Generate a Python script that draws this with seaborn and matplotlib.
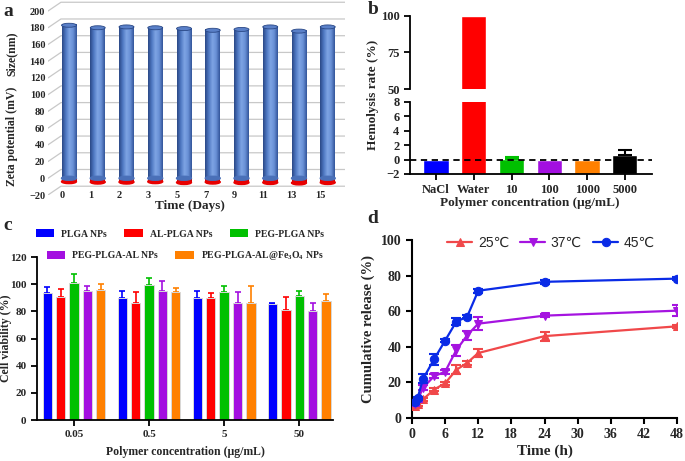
import numpy as np
import pandas as pd
import matplotlib
matplotlib.use("Agg")
import matplotlib.pyplot as plt
import seaborn as sns
from matplotlib.patches import Ellipse, Patch
from matplotlib.colors import LinearSegmentedColormap

# ---- panel a: size / zeta over time
days = ["0", "1", "2", "3", "5", "7", "9", "11", "13", "15"]
size_nm = [183, 180, 181, 180, 179, 177, 178, 181, 176, 181]
zeta_mv = [-4.0, -4.5, -4.5, -4.0, -5.0, -4.5, -5.0, -5.0, -5.5, -5.0]

# ---- panel b: hemolysis
hemo_groups = ["NaCl", "Water", "10", "100", "1000", "5000"]
hemo_rate = [0.0, 100.0, 0.1, -0.05, -0.05, 0.6]
hemo_err = [0.0, 0.0, 0.25, 0.0, 0.0, 0.7]
hemo_colors = ["#0000ff", "#ff0000", "#00c000", "#a30fe0", "#ff8000", "#000000"]

# ---- panel c: cell viability
conc = ["0.05", "0.5", "5", "50"]
np_types = ["PLGA NPs", "AL-PLGA NPs", "PEG-PLGA NPs", "PEG-PLGA-AL NPs",
            "PEG-PLGA-AL@Fe$_3$O$_4$ NPs"]
via_plga = [93.3, 89.6, 89.6, 85.2]
via_al = [90.3, 86.4, 89.8, 80.8]
via_peg = [100.6, 99.6, 94.0, 91.5]
via_pegal = [94.8, 95.2, 85.9, 80.5]
via_fe = [95.7, 94.0, 86.4, 87.4]
err_plga = [4.4, 5.6, 5.6, 1.0]
err_al = [5.9, 8.1, 3.7, 9.5]
err_peg = [6.9, 5.2, 4.9, 3.5]
err_pegal = [4.1, 6.9, 8.6, 5.7]
err_fe = [4.7, 3.2, 12.5, 5.1]
np_colors = ["#0000ff", "#ff0000", "#00c000", "#a30fe0", "#ff8000"]

# ---- panel d: release
time_h = [0.5, 1, 2, 4, 6, 8, 10, 12, 24, 48]
rel_25 = [6.5, 8, 10.5, 16, 19.5, 27, 31, 36.5, 46, 51.5]
err_25 = [1, 1, 1, 1, 1, 2.5, 1, 2.5, 2.5, 1]
rel_37 = [8, 10, 17, 23.5, 26, 38, 46.5, 53, 57.5, 60.3]
err_37 = [1, 1, 1.5, 1, 1, 3, 2.5, 3.5, 1, 3]
rel_45 = [9, 11, 22, 33, 43.5, 54, 57, 71.5, 76.5, 78.3]
err_45 = [1, 1, 2.5, 3, 1, 2, 1, 1, 1, 1]
temps = ["25\u2103", "37\u2103", "45\u2103"]
temp_colors = ["#f0484a", "#a514e0", "#0a2be6"]
temp_markers = ["^", "v", "o"]

sns.set_style("white")
plt.rcParams["font.family"] = ["Liberation Serif", "DejaVu Serif"]
plt.rcParams["font.weight"] = "bold"
plt.rcParams["axes.labelweight"] = "bold"
plt.rcParams["mathtext.fontset"] = "custom"
plt.rcParams["mathtext.rm"] = "Liberation Serif:bold"
plt.rcParams["mathtext.default"] = "rm"

W, H = 685, 461
fig = plt.figure(figsize=(W / 100, H / 100), dpi=100)


def box(l, t, r, b):
    return [l / W, 1 - b / H, (r - l) / W, (b - t) / H]


def style_axis(ax, lw=1.3, size=8):
    for s in ["top", "right"]:
        ax.spines[s].set_visible(False)
    for s in ["left", "bottom"]:
        ax.spines[s].set_linewidth(lw)
        ax.spines[s].set_color("black")
    ax.tick_params(direction="out", length=4, width=lw, color="black",
                   labelsize=size, left=True, bottom=True)


# ================= panel a =================
axa = fig.add_axes(box(48, 1, 345, 195))
dfa = pd.DataFrame({"day": days, "size": size_nm, "zeta": zeta_mv})
bw = 0.52
sns.barplot(data=dfa, x="day", y="zeta", color="#ff0000", saturation=1,
            width=bw, ax=axa, zorder=2)
nz = len(axa.patches)
sns.barplot(data=dfa, x="day", y="size", color="#4a6fb8", saturation=1,
            width=bw, ax=axa, zorder=3)
cyl = LinearSegmentedColormap.from_list(
    "cyl", ["#2a4886", "#4f78c2", "#7ea4e4", "#6990d6", "#33559a"])
red_cyl = LinearSegmentedColormap.from_list(
    "redcyl", ["#c80000", "#ff1010", "#ff2a2a", "#f00000", "#c00000"])
grad = np.linspace(0, 1, 64).reshape(1, -1)
eh = 4.8
for i, p in enumerate(axa.patches[:]):
    x, w = p.get_x(), p.get_width()
    y, h = p.get_y(), p.get_height()
    cx = x + w / 2
    p.set_visible(False)
    if i < nz:
        axa.imshow(grad, extent=[x, x + w, y + h, y], cmap=red_cyl,
                   aspect="auto", zorder=2)
        axa.add_patch(Ellipse((cx, y + h), w, eh, color="#e80000", zorder=2))
    else:
        axa.imshow(grad, extent=[x, x + w, y, y + h], cmap=cyl, aspect="auto",
                   zorder=3)
        axa.add_patch(Ellipse((cx, y), w, eh, color="#4a70b8", zorder=3))
        axa.add_patch(Ellipse((cx, y + h), w, eh, facecolor="#5a80c8",
                              edgecolor="#2a4886", lw=0.6, zorder=4))
x0, x1 = -0.73, 9.6
dx, off = 0.45, 10.5
for v in range(-20, 201, 20):
    axa.plot([x0, x0 + dx, x1], [v, v + off, v + off], color="#c8c8c8",
             lw=0.9, zorder=0)
axa.set_xlim(x0, x1)
axa.set_ylim(-20, 212)
axa.set_yticks(range(-20, 201, 20))
axa.set_xticks(np.arange(len(days)) - 0.25)
axa.set_xticklabels(days)
axa.set_xlabel("")
axa.set_ylabel("")
for s in axa.spines.values():
    s.set_visible(False)
axa.tick_params(length=0, labelsize=7.5, pad=2)
axa.tick_params(axis="x", pad=-3)
fig.text(12 / W, 1 - 54 / H, "Size(nm)", rotation=90, ha="center",
         va="center", fontsize=8.5)
fig.text(12 / W, 1 - 136 / H, "Zeta potential (mV)", rotation=90,
         ha="center", va="center", fontsize=8.5)
fig.text(190 / W, 1 - 206 / H, "Time (Days)", ha="center", va="center",
         fontsize=9.5)

# ================= panel b =================
dfb = pd.DataFrame({"grp": hemo_groups, "rate": hemo_rate})
axb1 = fig.add_axes(box(410, 16, 652, 89))
axb2 = fig.add_axes(box(410, 102, 652, 174))
for ax in (axb1, axb2):
    sns.barplot(data=dfb, x="grp", y="rate", hue="grp", palette=hemo_colors,
                saturation=1, width=0.67, legend=False, ax=ax, zorder=2)
    for p, v in zip(ax.patches, hemo_rate):
        p.set_y(-2)
        p.set_height(v + 2)
    for i, (v, e, c) in enumerate(zip(hemo_rate, hemo_err, hemo_colors)):
        if e > 0:
            ax.errorbar(i, v, yerr=[[0], [e]], fmt="none", ecolor=c,
                        elinewidth=1.5, capsize=5, capthick=1.5, zorder=3)
    ax.set_xlim(-0.69, 5.72)
    ax.set_xlabel("")
    ax.set_ylabel("")
    style_axis(ax, size=9)
axb1.set_ylim(50, 100)
axb1.set_yticks([50, 75, 100])
axb1.spines["bottom"].set_visible(False)
axb1.tick_params(axis="x", bottom=False, labelbottom=False)
axb2.set_ylim(-2, 8)
axb2.set_yticks(range(-2, 9, 2))
axb2.axhline(0, color="black", ls=(0, (3.5, 2.5)), lw=1.3, zorder=5)
fig.text(373 / W, 1 - 95 / H, "Hemolysis rate (%)", rotation=90,
         ha="center", va="center", fontsize=9.5)
fig.text(530 / W, 1 - 203 / H, "Polymer concentration (\u03bcg/mL)",
         ha="center", va="center", fontsize=9.5)

# ================= panel c =================
via = [via_plga, via_al, via_peg, via_pegal, via_fe]
errs = [err_plga, err_al, err_peg, err_pegal, err_fe]
dfc = pd.DataFrame({
    "conc": conc * len(np_types),
    "type": [t for t in np_types for _ in conc],
    "viab": [v for vals in via for v in vals],
})
axc = fig.add_axes(box(37, 257, 333, 420))
sns.barplot(data=dfc, x="conc", y="viab", hue="type", hue_order=np_types,
            palette=np_colors, saturation=1, width=0.89, gap=0.3,
            edgecolor="#d8d8d8", linewidth=0.7, legend=False, ax=axc, zorder=2)
for cont, e, c in zip(axc.containers, errs, np_colors):
    xs = [b.get_x() + b.get_width() / 2 for b in cont]
    ys = [b.get_height() for b in cont]
    axc.errorbar(xs, ys, yerr=[np.zeros(len(e)), e], fmt="none", ecolor=c,
                 elinewidth=1.2, capsize=2.5, capthick=1.2, zorder=1)
axc.set_xlim(-0.493, 3.45)
axc.set_ylim(0, 120)
axc.set_yticks(range(0, 121, 20))
axc.set_xlabel("")
axc.set_ylabel("")
style_axis(axc, size=8)
fig.text(6 / W, 1 - 338 / H, "Cell viability (%)", rotation=90, ha="center",
         va="center", fontsize=8.5)
fig.text(185 / W, 1 - 452 / H, "Polymer concentration (\u03bcg/mL)",
         ha="center", va="center", fontsize=8.5)
hnd = [Patch(facecolor=c, edgecolor="none") for c in np_colors]
fig.legend(hnd[:3], np_types[:3], ncol=3, frameon=False, fontsize=7,
           loc="center", bbox_to_anchor=(180 / W, 1 - 234 / H),
           handlelength=1.9, handleheight=0.9, columnspacing=1.8,
           handletextpad=0.7)
fig.legend(hnd[3:], np_types[3:], ncol=2, frameon=False, fontsize=7,
           loc="center", bbox_to_anchor=(185 / W, 1 - 256 / H),
           handlelength=1.9, handleheight=0.9, columnspacing=1.8,
           handletextpad=0.7)

# ================= panel d =================
axd = fig.add_axes(box(412, 240, 677, 418))
rels = [rel_25, rel_37, rel_45]
rerrs = [err_25, err_37, err_45]
for t, r, e, c, m in zip(temps, rels, rerrs, temp_colors, temp_markers):
    sns.lineplot(x=time_h, y=r, color=c, marker=m, markersize=6,
                 markeredgecolor=c, lw=1.6, label=t, ax=axd, zorder=3)
    axd.errorbar(time_h, r, yerr=e, fmt="none", ecolor=c, elinewidth=1.5,
                 capsize=3.5, capthick=1.5, zorder=3)
axd.set_xlim(0, 48)
axd.set_ylim(0, 100)
axd.set_xticks(range(0, 49, 6))
axd.set_yticks(range(0, 101, 20))
axd.set_xlabel("Time (h)", fontsize=11, labelpad=2)
axd.set_ylabel("Cumulative release (%)", fontsize=10.5, labelpad=4)
style_axis(axd, lw=1.5, size=10)
axd.legend(loc="center", bbox_to_anchor=(0.525, 0.985), ncol=3,
           frameon=False, handlelength=1.8, columnspacing=0.8,
           handletextpad=0.4,
           prop={"family": ["Liberation Sans", "DejaVu Sans"],
                 "weight": "normal", "size": 10})

# panel letters
for lab, px, py in [("a", 8, 12), ("b", 373, 10), ("c", 8, 226),
                    ("d", 373, 218)]:
    fig.text(px / W, 1 - py / H, lab, ha="center", va="center",
             fontsize=14)

fig.savefig("out.png", dpi=100)
